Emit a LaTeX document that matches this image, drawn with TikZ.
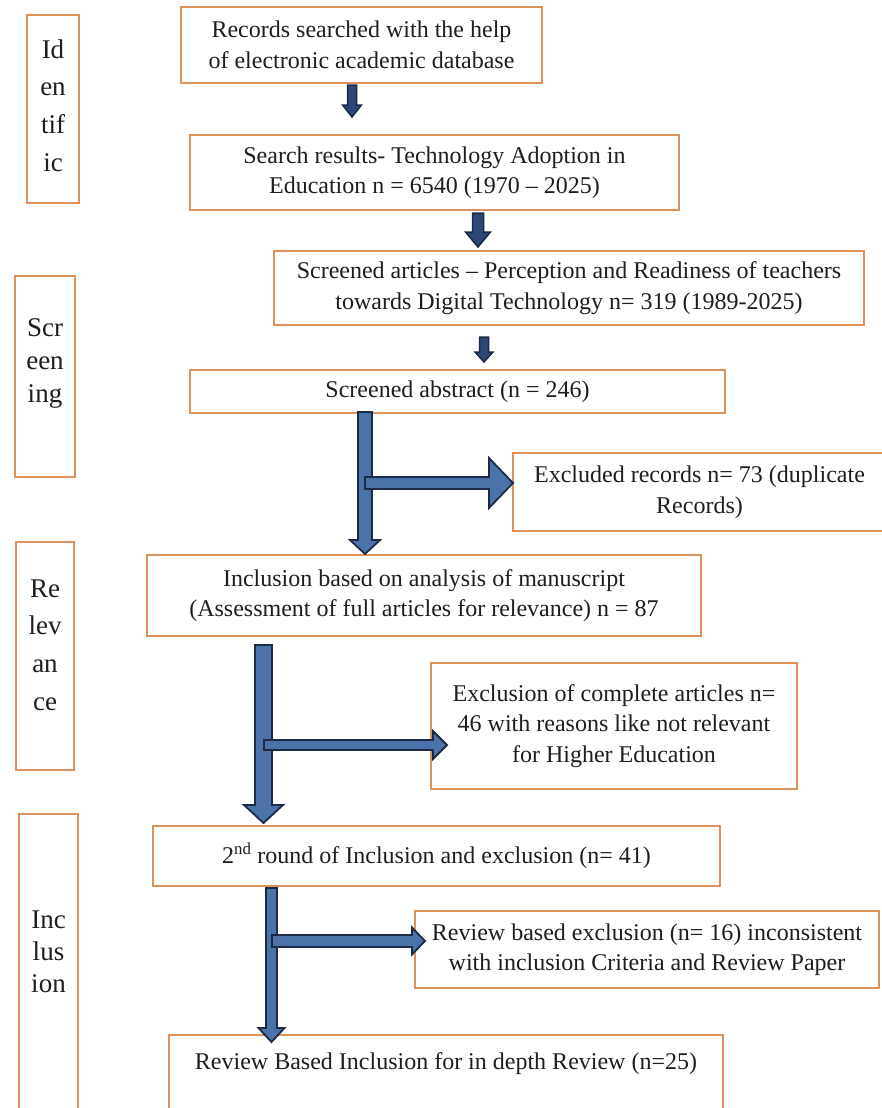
\documentclass[tikz,border=0pt]{standalone}
\usepackage{fontspec}
\setmainfont{Liberation Serif}
\usetikzlibrary{calc}
\definecolor{boxorange}{RGB}{222,146,90}
\definecolor{arrowblue}{RGB}{76,114,170}
\definecolor{arrowedge}{RGB}{28,42,72}
\definecolor{darkarrow}{RGB}{45,70,115}
\definecolor{txt}{RGB}{30,30,30}
\tikzset{
  flowbox/.style={draw=boxorange, line width=2.6pt, fill=white, align=center, text=txt,
    font=\fontsize{24}{30.5}\selectfont, inner sep=0pt, outer sep=0pt},
  sidebox/.style={draw=boxorange, line width=2.6pt, fill=white, text=txt,
    inner sep=0pt, outer sep=0pt},
  bigarrow/.style={fill=arrowblue, draw=arrowedge, line width=1.8pt, line join=miter},
  smallarrow/.style={fill=darkarrow, draw=arrowedge, line width=1.5pt, line join=miter},
}
% #1 style, #2 x, #3 from anchor, #4 gap below it, #5 to anchor, #6 gap above it,
% #7 half shaft, #8 half head, #9 head length
\newcommand\vblock[9]{%
  \filldraw[#1] let \p1=(#3), \p2=(#5) in
   ({#2-#7},{\y1-(#4)}) -- ({#2+#7},{\y1-(#4)}) -- ({#2+#7},{\y2+(#6)+(#9)}) -- ({#2+#8},{\y2+(#6)+(#9)})
   -- ({#2},{\y2+(#6)}) -- ({#2-#8},{\y2+(#6)+(#9)}) -- ({#2-#7},{\y2+(#6)+(#9)}) -- cycle;}
% #1 style, #2 x start, #3 target anchor, #4 y offset, #5 gap, #6 half shaft, #7 half head, #8 head length
\newcommand\hblock[8]{%
  \filldraw[#1] let \p2=(#3) in
   ({#2},{\y2+(#4)-(#6)}) -- ({\x2-(#5)-(#8)},{\y2+(#4)-(#6)}) -- ({\x2-(#5)-(#8)},{\y2+(#4)-(#7)})
   -- ({\x2-(#5)},{\y2+(#4)}) -- ({\x2-(#5)-(#8)},{\y2+(#4)+(#7)}) -- ({\x2-(#5)-(#8)},{\y2+(#4)+(#6)})
   -- ({#2},{\y2+(#4)+(#6)}) -- cycle;}
\begin{document}
\begin{tikzpicture}[x=1pt,y=-1pt]
\useasboundingbox (0,0) rectangle (881,1108);
\fill[white] (0,0) rectangle (881,1108);

% side labels
\node[sidebox] (ident) at (53,109)
  {\parbox[c][188pt][t]{52pt}{\centering\fontsize{27}{37.7}\selectfont\rule{0pt}{43pt}Id\\en\\tif\\ic}};
\node[sidebox] (scr) at (45,376.5)
  {\parbox[c][201pt][t]{60pt}{\centering\fontsize{27}{33}\selectfont\rule{0pt}{60pt}Scr\\een\\ing}};
\node[sidebox] (rel) at (45,656)
  {\parbox[c][228pt][t]{58pt}{\centering\fontsize{27}{37.7}\selectfont\rule{0pt}{55pt}Re\\lev\\an\\ce}};
\node[sidebox] (inc) at (48.5,963)
  {\parbox[c][298pt][t]{59pt}{\centering\fontsize{27}{32}\selectfont\rule{0pt}{114pt}Inc\\lus\\ion}};

% flow boxes
\node[flowbox, minimum width=361pt, minimum height=76pt] (b1) at (361.5,45)
  {Records searched with the help\\of electronic academic database};
\node[flowbox, minimum width=489pt, minimum height=75pt] (b2) at (434.5,172.5)
  {Search results- Technology Adoption in\\Education n = 6540 (1970 – 2025)};
\node[flowbox, minimum width=590pt, minimum height=74pt] (b3) at (569,288)
  {Screened articles – Perception and Readiness of teachers\\towards Digital Technology n= 319 (1989-2025)};
\node[flowbox, minimum width=535pt, minimum height=43pt] (b4) at (457.5,391.5)
  {Screened abstract (n = 246)};
\node[flowbox, minimum width=373pt, minimum height=78pt] (ex1) at (699.5,492)
  {Excluded records n= 73 (duplicate\\Records)};
\node[flowbox, minimum width=554pt, minimum height=81pt] (b5) at (424,595.5)
  {Inclusion based on analysis of manuscript\\(Assessment of full articles for relevance) n = 87};
\node[flowbox, minimum width=366pt, minimum height=126pt] (ex2) at (614,726)
  {Exclusion of complete articles n=\\46 with reasons like not relevant\\for Higher Education};
\node[flowbox, minimum width=567pt, minimum height=60pt] (b6) at (436.5,856)
  {2\textsuperscript{nd} round of Inclusion and exclusion (n= 41)};
\node[flowbox, minimum width=464pt, minimum height=77pt] (ex3) at (647,949.5)
  {Review based exclusion (n= 16) inconsistent\\with inclusion Criteria and Review Paper};
\node[flowbox, anchor=north, minimum width=554pt, text height=34pt, text depth=44pt] (b8) at (446,1035)
  {Review Based Inclusion for in depth Review (n=25)};

% arrows
\vblock{smallarrow}{352pt}{b1.south}{2pt}{b2.north}{18pt}{4.5pt}{9.5pt}{12pt}
\vblock{smallarrow}{478pt}{b2.south}{3pt}{b3.north}{4pt}{5.5pt}{12.5pt}{15pt}
\vblock{smallarrow}{484pt}{b3.south}{12pt}{b4.north}{8pt}{4.5pt}{9pt}{10pt}

\vblock{bigarrow}{365pt}{b4.south}{-1pt}{b5.north}{1pt}{7pt}{15pt}{14pt}
\hblock{bigarrow}{365pt}{ex1.west}{9pt}{0pt}{6pt}{25pt}{24pt}

\vblock{bigarrow}{263.5pt}{b5.south}{9pt}{b6.north}{3pt}{8.5pt}{19.5pt}{18pt}
\hblock{bigarrow}{264pt}{ex2.west}{-19pt}{-16pt}{5pt}{14pt}{14pt}

\vblock{bigarrow}{271.5pt}{b6.south}{2pt}{b8.north}{-7pt}{5.5pt}{13pt}{14pt}
\hblock{bigarrow}{272pt}{ex3.west}{8.5pt}{-10pt}{6pt}{13.5pt}{13pt}
\end{tikzpicture}
\end{document}
